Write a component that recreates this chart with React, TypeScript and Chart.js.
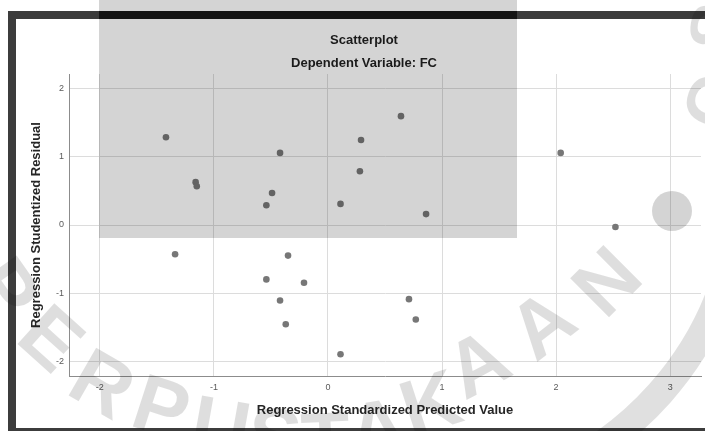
import React, { useEffect, useRef } from "react";
import { Chart, registerables } from "chart.js";

Chart.register(...registerables);

// Scatterplot data (Regression Standardized Predicted Value vs Studentized Residual)
const predicted = [-1.42, -1.16, -1.15, -0.42, -0.49, -0.54, 0.11, 0.29, 0.28, 0.64, 0.86, 2.04, -1.34, -0.35, -0.54, -0.21, -0.42, -0.37, 0.11, 2.52, 0.71, 0.77];
const residual = [1.29, 0.63, 0.57, 1.06, 0.47, 0.29, 0.31, 1.25, 0.79, 1.6, 0.16, 1.06, -0.43, -0.45, -0.8, -0.85, -1.11, -1.46, -1.9, -0.03, -1.09, -1.39];

const titleText = "Scatterplot";
const subtitleText = "Dependent Variable: FC";
const xTitle = "Regression Standardized Predicted Value";
const yTitle = "Regression Studentized Residual";
const watermarkLetters = ["P", "E", "R", "P", "U", "S", "T", "A", "K", "A", "A", "N"];

const FONT = "'Liberation Sans', Arial, sans-serif";

const decorPlugin = {
  id: "decor",
  beforeDraw(chart: any) {
    const ctx = chart.ctx;
    const w = chart.width;
    const h = chart.height;
    ctx.save();
    ctx.fillStyle = "#ffffff";
    ctx.fillRect(0, 0, w, h);
    ctx.fillStyle = "#3c3c3c";
    ctx.fillRect(8, 11, w - 8, 8); // top
    ctx.fillRect(8, 11, 8, h - 11); // left
    ctx.fillRect(8, 428, w - 8, 3); // bottom
    ctx.restore();
  },
  afterDraw(chart: any) {
    const ctx = chart.ctx;
    ctx.save();
    // watermark letters along an arc
    const pos = [
      [2, 292, 55],
      [48, 342, 42],
      [100, 388, 30],
      [160, 412, 18],
      [220, 432, 10],
      [275, 442, 3],
      [326, 446, -3],
      [378, 434, -10],
      [432, 408, -18],
      [480, 368, -28],
      [545, 328, -38],
      [610, 285, -45],
    ];
    ctx.fillStyle = "rgba(0,0,0,0.13)";
    ctx.font = `bold 80px ${FONT}`;
    ctx.textAlign = "center";
    ctx.textBaseline = "middle";
    watermarkLetters.forEach((ch, i) => {
      const [x, y, r] = pos[i];
      ctx.save();
      ctx.translate(x, y);
      ctx.rotate((r * Math.PI) / 180);
      ctx.fillText(ch, 0, 0);
      ctx.restore();
    });
    // arc ring & dot
    ctx.strokeStyle = "rgba(0,0,0,0.12)";
    ctx.lineWidth = 28;
    ctx.beginPath();
    ctx.arc(420, 180, 321, 0.2, 1.25);
    ctx.stroke();
    ctx.fillStyle = "rgba(0,0,0,0.17)";
    ctx.beginPath();
    ctx.arc(672, 211, 20, 0, Math.PI * 2);
    ctx.fill();
    // top-right watermark fragments
    ctx.fillStyle = "rgba(0,0,0,0.13)";
    ctx.font = `bold 70px ${FONT}`;
    ctx.save();
    ctx.translate(716, 104);
    ctx.rotate((-70 * Math.PI) / 180);
    ctx.fillText("C", 0, 0);
    ctx.restore();
    ctx.save();
    ctx.translate(720, 28);
    ctx.rotate((-80 * Math.PI) / 180);
    ctx.fillText("S", 0, 0);
    ctx.restore();
    // grey overlay rectangle
    ctx.fillStyle = "rgba(0,0,0,0.17)";
    ctx.fillRect(99, 0, 418, 238);
    ctx.fillStyle = "#141414";
    ctx.fillRect(99, 11, 418, 8);
    // titles
    ctx.fillStyle = "#1a1a1a";
    ctx.font = `bold 13px ${FONT}`;
    ctx.textAlign = "center";
    ctx.textBaseline = "middle";
    ctx.fillText(titleText, 364, 40);
    ctx.fillText(subtitleText, 364, 63);
    ctx.restore();
  },
};

export default function App() {
  const ref = useRef<HTMLCanvasElement | null>(null);
  useEffect(() => {
    if (!ref.current) return;
    const data = predicted.map((x, i) => ({ x, y: residual[i] }));
    const chart = new Chart(ref.current, {
      type: "scatter",
      data: {
        datasets: [
          {
            data,
            backgroundColor: "#777777",
            borderWidth: 0,
            pointRadius: 3.3,
          },
        ],
      },
      options: {
        animation: false,
        responsive: false,
        devicePixelRatio: 1,
        layout: { padding: { left: 16, top: 74, right: 3, bottom: 3 } },
        plugins: { legend: { display: false }, tooltip: { enabled: false } },
        scales: {
          x: {
            type: "linear",
            min: -2.27,
            max: 3.27,
            ticks: { stepSize: 1, includeBounds: false, color: "#5a5a5a", font: { size: 9, family: FONT }, padding: 6 },
            grid: { color: "#dcdcdc", drawTicks: false },
            border: { color: "#8c8c8c" },
            title: { display: true, text: xTitle, color: "#262626", font: { size: 13, weight: "bold", family: FONT }, padding: { top: 0, bottom: 10 } },
            afterFit: (s: any) => {
              s.height = 52;
            },
          },
          y: {
            type: "linear",
            min: -2.22,
            max: 2.22,
            ticks: { stepSize: 1, includeBounds: false, color: "#5a5a5a", font: { size: 9, family: FONT }, padding: 5 },
            grid: { color: "#dcdcdc", drawTicks: false },
            border: { color: "#8c8c8c" },
            title: { display: true, text: yTitle, color: "#262626", font: { size: 13, weight: "bold", family: FONT }, padding: { top: 13, bottom: 0 } },
            afterFit: (s: any) => {
              s.width = 53;
            },
          },
        },
      },
      plugins: [decorPlugin],
    } as any);
    return () => chart.destroy();
  }, []);
  return (
    <div style={{ position: "fixed", left: 0, top: 0, width: 705, height: 431, overflow: "hidden", background: "#fff" }}>
      <canvas ref={ref} width={705} height={431} style={{ display: "block" }} />
    </div>
  );
}
